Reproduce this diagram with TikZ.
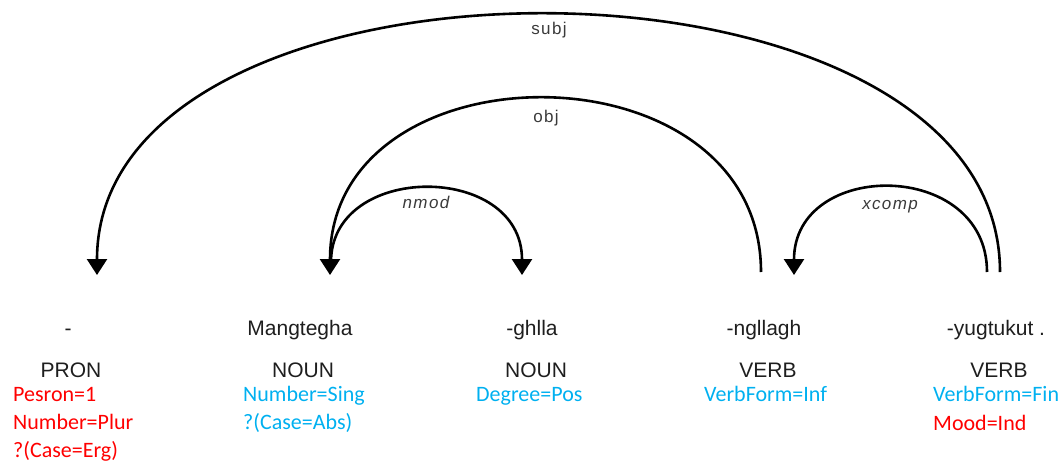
\documentclass[tikz,border=0pt]{standalone}
\usepackage{fontspec}
\setmainfont{Liberation Sans}
\newfontfamily\featfont{Carlito}
\newfontfamily\labfont[LetterSpace=8]{Liberation Sans}
\usetikzlibrary{arrows.meta}
\definecolor{featred}{HTML}{FF0000}
\definecolor{featblue}{HTML}{00B0F0}
\definecolor{wordgray}{HTML}{1E1E1E}
\definecolor{labgray}{HTML}{3A3A3A}
\tikzset{
  word/.style={anchor=base, inner sep=0pt, text=wordgray, font=\fontsize{21}{25}\selectfont},
  feat/.style={anchor=base west, inner sep=0pt, font=\featfont\fontsize{22}{26}\selectfont},
  featc/.style={anchor=base, inner sep=0pt, font=\featfont\fontsize{22}{26}\selectfont},
  red/.style={text=featred},
  blue/.style={text=featblue},
  arclab/.style={anchor=base, inner sep=0pt, text=labgray, font=\labfont\fontsize{17}{20}\selectfont},
  arcitlab/.style={anchor=base, inner sep=0pt, text=labgray, font=\labfont\itshape\fontsize{17}{20}\selectfont},
  deparc/.style={draw=black, line width=2.6pt, -{Triangle[width=20pt,length=16pt]}},
  deparcplain/.style={draw=black, line width=2.6pt}
}
\begin{document}
\begin{tikzpicture}[x=1pt,y=-1pt]
\useasboundingbox (0,0) rectangle (1064,466);
% words
\node[word] (w1) at (68,335) {-};
\node[word] (w2) at (300,335) {Mangtegha};
\node[word] (w3) at (532,335) {-ghlla};
\node[word] (w4) at (764,335) {-ngllagh};
\node[word] (w5) at (996,335) {-yugtukut .};
% POS
\node[word] (p1) at (71,377) {PRON};
\node[word] (p2) at (303,377) {NOUN};
\node[word] (p3) at (536,377) {NOUN};
\node[word] (p4) at (768,377) {VERB};
\node[word] (p5) at (999,377) {VERB};
% features
\node[feat,red] (f11) at (13,401) {Pesron=1};
\node[feat,red] (f12) at (13,429) {Number=Plur};
\node[feat,red] (f13) at (13,457) {?(Case=Erg)};
\node[feat,blue] (f21) at (243,401) {Number=Sing};
\node[feat,blue] (f22) at (243,429) {?(Case=Abs)};
\node[feat,blue] (f31) at (476,401) {Degree=Pos};
\node[feat,blue] (f41) at (704,401) {VerbForm=Inf};
\node[feat,blue] (f51) at (933,401) {VerbForm=Fin};
\node[feat,red] (f52) at (933,430) {Mood=Ind};
% arc endpoints
\coordinate (subjS) at (1000,272);
\coordinate (subjE) at (97,275);
\coordinate (objS) at (761,272);
\coordinate (objE) at (330,275);
\coordinate (nmodS) at (331,262);
\coordinate (nmodE) at (522,275);
\coordinate (xcompS) at (987,272);
\coordinate (xcompE) at (794,275);
% arcs
\draw[deparc] (subjS) .. controls +(0,-343) and +(0,-346) .. (subjE);
\draw[deparc] (objS) .. controls +(0,-231) and +(0,-234) .. (objE);
\draw[deparc] (nmodS) .. controls +(0,-100) and +(0,-113) .. (nmodE);
\draw[deparc] (xcompS) .. controls +(0,-113) and +(0,-116) .. (xcompE);
% labels
\node[arclab] (lsubj) at (549,34) {subj};
\node[arclab] (lobj) at (546,122) {obj};
\node[arcitlab] (lnmod) at (426,208) {nmod};
\node[arcitlab] (lxcomp) at (890,209) {xcomp};
\end{tikzpicture}
\end{document}
